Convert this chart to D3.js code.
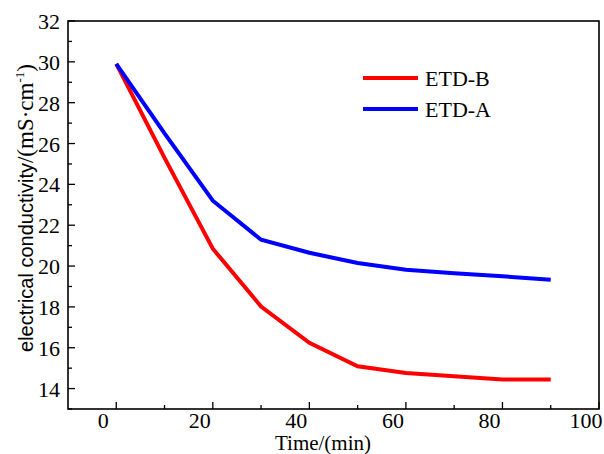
<!DOCTYPE html>
<html>
<head>
<script src="https://d3js.org/d3.v7.min.js"></script>
<style>
	body, html {
		margin: 0;
		padding: 0;
		background: #fff;
	}
	svg text, svg text tspan {
		font-family: "Liberation Serif", "Times New Roman", serif !important;
	}
	svg text tspan.sans {
		font-family: "Liberation Sans", Arial, sans-serif !important;
	}
</style>
</head>
<body>
<script>

	// data
	var times = [0, 10, 20, 30, 40, 50, 60, 70, 80, 90];
	var etdB = [29.9, 25.3, 20.85, 18.02, 16.24, 15.09, 14.76, 14.6, 14.44, 14.44];
	var etdA = [29.9, 26.5, 23.2, 21.29, 20.65, 20.15, 19.82, 19.65, 19.5, 19.33];
	var seriesNames = ["ETD-B", "ETD-A"];
	var seriesColors = ["#ff0000", "#0000ff"];
	var xTicks = [0, 20, 40, 60, 80, 100];
	var yTicks = [14, 16, 18, 20, 22, 24, 26, 28, 30, 32];

	var serif = "\"Liberation Serif\", \"Times New Roman\", serif";
	var sans = "\"Liberation Sans\", Arial, sans-serif";

	var w = 604, h = 454;
	var margin = {left: 68, right: 5, top: 21, bottom: 45};

	var svg = d3.select("body").append("svg")
		.attr("width", w)
		.attr("height", h);

	var x = d3.scaleLinear()
		.domain([-10, 100])
		.range([margin.left, w - margin.right]);

	var y = d3.scaleLinear()
		.domain([13, 32])
		.range([h - margin.bottom, margin.top]);

	// minor ticks
	var xMinor = d3.range(10, 100, 20);
	var yMinor = d3.range(13, 32, 2);

	// lines
	var line = d3.line()
		.x(function(d){ return x(d[0]); })
		.y(function(d){ return y(d[1]); });

	[etdB, etdA].forEach(function(vals, i){
		svg.append("path")
			.datum(times.map(function(t, j){ return [t, vals[j]]; }))
			.attr("d", line)
			.attr("fill", "none")
			.attr("stroke", seriesColors[i])
			.attr("stroke-width", 4)
			.attr("stroke-linejoin", "miter");
	});

	// x ticks (inward)
	svg.selectAll(".xmaj").data(xTicks).enter().append("line")
		.attr("x1", function(d){ return x(d); })
		.attr("x2", function(d){ return x(d); })
		.attr("y1", y(13)).attr("y2", y(13) - 7)
		.attr("stroke", "#000").attr("stroke-width", 1.3);
	svg.selectAll(".xmin").data(xMinor).enter().append("line")
		.attr("x1", function(d){ return x(d); })
		.attr("x2", function(d){ return x(d); })
		.attr("y1", y(13)).attr("y2", y(13) - 4)
		.attr("stroke", "#000").attr("stroke-width", 1.3);

	// y ticks (inward)
	svg.selectAll(".ymaj").data(yTicks).enter().append("line")
		.attr("x1", x(-10)).attr("x2", x(-10) + 7)
		.attr("y1", function(d){ return y(d); })
		.attr("y2", function(d){ return y(d); })
		.attr("stroke", "#000").attr("stroke-width", 1.3);
	svg.selectAll(".ymin").data(yMinor).enter().append("line")
		.attr("x1", x(-10)).attr("x2", x(-10) + 4)
		.attr("y1", function(d){ return y(d); })
		.attr("y2", function(d){ return y(d); })
		.attr("stroke", "#000").attr("stroke-width", 1.3);

	// frame box
	svg.append("rect")
		.attr("x", x(-10)).attr("y", y(32))
		.attr("width", x(100) - x(-10))
		.attr("height", y(13) - y(32))
		.attr("fill", "none")
		.attr("stroke", "#000")
		.attr("stroke-width", 1.6);

	// tick labels
	svg.selectAll(".xl").data(xTicks).enter().append("text")
		.attr("x", function(d){ return x(d) - 13; })
		.attr("y", 428)
		.attr("text-anchor", "middle")
		.attr("font-size", 22)
		.style("font-family", serif, "important")
		.text(function(d){ return d; });

	svg.selectAll(".yl").data(yTicks).enter().append("text")
		.attr("x", 60)
		.attr("y", function(d){ return y(d) + 8; })
		.attr("text-anchor", "end")
		.attr("font-size", 22)
		.style("font-family", serif, "important")
		.text(function(d){ return d; });

	// axis titles
	svg.append("text")
		.attr("x", 323)
		.attr("y", 450)
		.attr("text-anchor", "middle")
		.attr("font-size", 21)
		.style("font-family", serif, "important")
		.text("Time/(min)");

	var yt = svg.append("text")
		.attr("transform", "translate(33,208) rotate(-90)")
		.attr("text-anchor", "middle")
		.style("font-family", serif, "important")
		.attr("fill", "#000");
	yt.append("tspan")
		.attr("class", "sans")
		.attr("font-size", 20)
		.style("font-family", sans, "important")
		.text("electrical conductivity");
	yt.append("tspan")
		.attr("font-size", 23)
		.text("/(mS\u00b7cm");
	yt.append("tspan")
		.attr("font-size", 13)
		.attr("dy", -9)
		.text("-1");
	yt.append("tspan")
		.attr("font-size", 23)
		.attr("dy", 9)
		.text(")");

	// legend
	seriesNames.forEach(function(name, i){
		var ly = 78 + i * 31;
		svg.append("line")
			.attr("x1", 363).attr("x2", 418)
			.attr("y1", ly).attr("y2", ly)
			.attr("stroke", seriesColors[i])
			.attr("stroke-width", 4);
		svg.append("text")
			.attr("x", 425)
			.attr("y", ly + 8)
			.attr("font-size", 22)
			.style("font-family", serif, "important")
			.text(name);
	});

</script>
</body>
</html>
